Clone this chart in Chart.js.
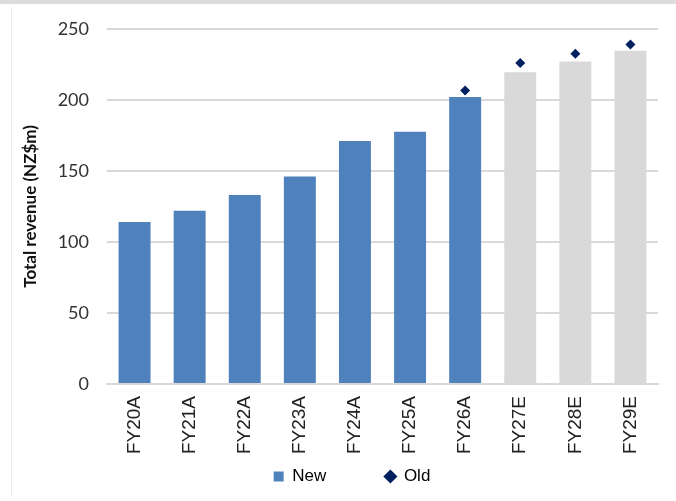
<!DOCTYPE html>
<html>
<head>
<meta charset="utf-8">
<script src="https://cdn.jsdelivr.net/npm/chart.js@4/dist/chart.umd.min.js"></script>
<style>
  html, body { margin: 0; padding: 0; background: #fff; }
  #wrap { position: relative; width: 676px; height: 501px; overflow: hidden; }
  #topband { position: absolute; left: 0; top: 0; width: 676px; height: 4px; background: #dcdcdc; }
  #leftrule { position: absolute; left: 11px; top: 7px; width: 1px; height: 490px; background: #ececec; }
  canvas { position: absolute; left: 0; top: 0; }
</style>
</head>
<body>
<div id="wrap">
  <div id="topband"></div>
  <div id="leftrule"></div>
  <canvas id="c" width="676" height="501"></canvas>
</div>
<script>
// Total revenue by financial year, NZ$m
const categories = ['FY20A', 'FY21A', 'FY22A', 'FY23A', 'FY24A', 'FY25A', 'FY26A', 'FY27E', 'FY28E', 'FY29E'];
const newRevenue = [114, 122, 133, 146, 171, 177.5, 202, 219.5, 227, 234.5];
const oldRevenue = [null, null, null, null, null, null, 206.5, 226, 232.5, 239];
const isEstimate = [false, false, false, false, false, false, false, true, true, true];
const yTicks = [0, 50, 100, 150, 200, 250];

const BLUE = '#4f81bd';
const GREY = '#d9d9d9';
const NAVY = '#002060';
const LEGEND_GAP = '          '; // widens the "New" entry so "Old" sits further right

// nudge the legend row to the right of the canvas centre
const legendShift = {
  id: 'legendShift',
  beforeDraw(chart) {
    if (chart.legend) {
      chart.legend.left += 13;
      chart.legend.right += 13;
    }
  },
  afterDraw(chart) {
    if (chart.legend) {
      chart.legend.left -= 13;
      chart.legend.right -= 13;
    }
  }
};

new Chart(document.getElementById('c'), {
  data: {
    labels: categories,
    datasets: [
      {
        type: 'bar',
        label: 'New',
        data: newRevenue,
        backgroundColor: isEstimate.map(e => e ? GREY : BLUE),
        borderWidth: 0,
        categoryPercentage: 1,
        barPercentage: 0.58,
        order: 2
      },
      {
        type: 'line',
        label: 'Old',
        data: oldRevenue,
        showLine: false,
        pointStyle: 'rectRot',
        pointRadius: 5,
        pointHoverRadius: 5,
        pointBackgroundColor: NAVY,
        pointBorderColor: NAVY,
        pointBorderWidth: 0,
        backgroundColor: NAVY,
        borderColor: NAVY,
        order: 1
      }
    ]
  },
  plugins: [legendShift],
  options: {
    responsive: false,
    animation: false,
    layout: { padding: { left: 20, right: 18, top: 26, bottom: 6 } },
    plugins: {
      tooltip: { enabled: false },
      legend: {
        position: 'bottom',
        labels: {
          usePointStyle: true,
          boxWidth: 10,
          boxHeight: 10,
          padding: 12,
          color: '#222',
          font: { family: 'Liberation Sans', size: 17 },
          generateLabels: (chart) => [
            { text: 'New' + LEGEND_GAP, fillStyle: BLUE, strokeStyle: BLUE, lineWidth: 0, pointStyle: 'rect', datasetIndex: 0 },
            { text: 'Old', fillStyle: NAVY, strokeStyle: NAVY, lineWidth: 0, pointStyle: 'rectRot', datasetIndex: 1 }
          ]
        }
      }
    },
    scales: {
      x: {
        grid: { display: false, drawTicks: false },
        border: { display: true, color: '#d9d9d9', width: 2 },
        ticks: {
          minRotation: 90,
          maxRotation: 90,
          padding: 12,
          color: '#222',
          font: { family: 'Liberation Sans', size: 19 }
        },
        afterFit: (scale) => { scale.height = 72; }
      },
      y: {
        min: 0,
        max: 250,
        afterBuildTicks: (scale) => { scale.ticks = yTicks.map(v => ({ value: v })); },
        grid: { color: '#d9d9d9', lineWidth: 2, drawTicks: false },
        border: { display: false },
        ticks: {
          padding: 18,
          color: '#333',
          font: { family: 'Lato', size: 18 }
        },
        title: {
          display: true,
          text: 'Total revenue (NZ$m)',
          color: '#111',
          padding: { top: 0, bottom: 6 },
          font: { family: 'Lato', size: 17, weight: 'bold' }
        },
        afterFit: (scale) => { scale.width = 87; }
      }
    }
  }
});
</script>
</body>
</html>
